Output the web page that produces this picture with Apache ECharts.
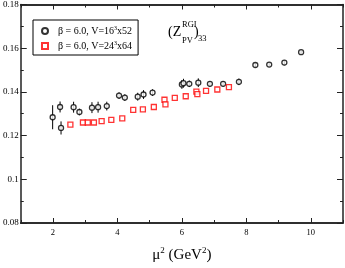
<!DOCTYPE html>
<html>
<head>
<meta charset="utf-8">
<script src="https://cdn.jsdelivr.net/npm/echarts@6/dist/echarts.min.js"></script>
<style>html,body{margin:0;padding:0;background:#fff;}#c{width:345px;height:268px;}</style>
</head>
<body>
<div id="c"></div>
<script>
// Data
var blackX = [1.99, 2.22, 2.25, 2.64, 2.82, 3.21, 3.40, 3.67, 4.05, 4.23, 4.63, 4.81, 5.09, 6.00, 6.05, 6.23, 6.51, 6.87, 7.28, 7.77, 8.28, 8.71, 9.18, 9.70];
var blackY = [0.1284, 0.1331, 0.1235, 0.1330, 0.1308, 0.1328, 0.1330, 0.1335, 0.1383, 0.1374, 0.1378, 0.1388, 0.1397, 0.1434, 0.1440, 0.1437, 0.1442, 0.1437, 0.1437, 0.1446, 0.1523, 0.1525, 0.1534, 0.1582];
var blackErr = [0.0055, 0.0025, 0.0030, 0.0025, 0.0015, 0.0025, 0.0025, 0.0020, 0.0015, 0.0015, 0.0018, 0.0020, 0.0015, 0.0020, 0.0020, 0.0015, 0.0020, 0.0012, 0.0012, 0.0015, 0.0010, 0.0010, 0.0012, 0.0010];
var redX = [2.54, 2.93, 3.08, 3.27, 3.51, 3.81, 4.15, 4.49, 4.79, 5.13, 5.46, 5.49, 5.78, 6.12, 6.45, 6.48, 6.75, 7.10, 7.46];
var redY = [0.1250, 0.1260, 0.1260, 0.1260, 0.1266, 0.1272, 0.1279, 0.1318, 0.1320, 0.1331, 0.1364, 0.1343, 0.1373, 0.1380, 0.1401, 0.1390, 0.1405, 0.1411, 0.1422];
var xMajorTicks = [2, 4, 6, 8, 10];
var xMinorTicks = [1, 3, 5, 7, 9, 11];
var seriesNames = ['s16', 's24'];

var FONT = '"Liberation Serif", "DejaVu Serif", serif';
var AX = '#222';

var blackPts = blackX.map(function (x, i) { return [x, blackY[i]]; });
var blackErrData = blackX.map(function (x, i) { return [x, blackY[i] - blackErr[i], blackY[i] + blackErr[i]]; });
var redPts = redX.map(function (x, i) { return [x, redY[i]]; });

function xAxisDef(pos, showLabel, ticks, len) {
  return {
    type: 'value', position: pos, min: 1, max: 11, interval: 1,
    axisLine: { show: true, onZero: false, lineStyle: { color: AX, width: 1.5 } },
    axisTick: { show: true, inside: true, length: len, customValues: ticks, lineStyle: { color: AX, width: 1 } },
    axisLabel: { show: showLabel, customValues: xMajorTicks, fontFamily: FONT, fontSize: 8.5, color: '#000', margin: 5 },
    splitLine: { show: false }
  };
}
function yAxisDef(pos, showLabel) {
  return {
    type: 'value', position: pos, min: 0.08, max: 0.18, interval: 0.02,
    axisLine: { show: true, onZero: false, lineStyle: { color: AX, width: 1.5 } },
    axisTick: { show: true, inside: true, length: 6, lineStyle: { color: AX, width: 1 } },
    minorTick: { show: true, splitNumber: 2, length: 3, lineStyle: { color: AX, width: 1 } },
    axisLabel: { show: showLabel, fontFamily: FONT, fontSize: 9, color: '#000', margin: 2 },
    splitLine: { show: false }, minorSplitLine: { show: false }
  };
}

var xa0 = xAxisDef('bottom', true, xMajorTicks, 5);
xa0.name = '{a|μ}{s|2}{a| (GeV}{s|2}{a|)}';
xa0.nameLocation = 'middle';
xa0.nameGap = 23;
xa0.nameTextStyle = {
  fontFamily: FONT, color: '#000',
  rich: {
    a: { fontFamily: FONT, fontSize: 15, color: '#000' },
    s: { fontFamily: FONT, fontSize: 9, color: '#000', padding: [0, 0, 10, 0] }
  }
};

var chart = echarts.init(document.getElementById('c'), null, { renderer: 'canvas' });
chart.setOption({
  animation: false,
  backgroundColor: '#fff',
  grid: { left: 20, right: 2, top: 4, bottom: 38, containLabel: false },
  xAxis: [
    xa0,
    xAxisDef('bottom', false, xMinorTicks, 3),
    xAxisDef('top', false, xMajorTicks, 5),
    xAxisDef('top', false, xMinorTicks, 3)
  ],
  yAxis: [yAxisDef('left', true), yAxisDef('right', false)],
  legend: {
    orient: 'vertical', left: 33, top: 20, width: 94,
    padding: [5, 6, 4, 8], itemGap: 4, itemWidth: 6, itemHeight: 6,
    borderColor: '#000', borderWidth: 1, borderRadius: 0,
    data: seriesNames,
    formatter: function (n) {
      return n === 's16' ? '{a|β = 6.0, V=16}{s|3}{a|x52}' : '{a|β = 6.0, V=24}{s|3}{a|x64}';
    },
    textStyle: {
      padding: [0, 0, 0, 5],
      rich: {
        a: { fontFamily: FONT, fontSize: 10, color: '#000' },
        s: { fontFamily: FONT, fontSize: 6, color: '#000', padding: [0, 0, 6, 0] }
      }
    }
  },
  graphic: [
    { type: 'text', left: 168, top: 25, style: { text: '(Z', font: '14px ' + FONT, fill: '#000' } },
    { type: 'text', left: 182, top: 20, style: { text: 'RGI', font: '8.5px ' + FONT, fill: '#000' } },
    { type: 'text', left: 182, top: 36, style: { text: 'PV', font: '8.5px ' + FONT, fill: '#000' } },
    { type: 'text', left: 194, top: 25, style: { text: ')', font: '14px ' + FONT, fill: '#000' } },
    { type: 'text', left: 198, top: 34.5, style: { text: '33', font: '8.5px ' + FONT, fill: '#000' } }
  ],
  series: [
    {
      type: 'custom', name: 'err16', xAxisIndex: 0, yAxisIndex: 0, silent: true,
      data: blackErrData, z: 2,
      renderItem: function (params, api) {
        var lo = api.coord([api.value(0), api.value(1)]);
        var hi = api.coord([api.value(0), api.value(2)]);
        return {
          type: 'line',
          shape: { x1: lo[0], y1: lo[1], x2: hi[0], y2: hi[1] },
          style: { stroke: '#000', lineWidth: 1 }
        };
      }
    },
    {
      type: 'scatter', name: 's16', xAxisIndex: 0, yAxisIndex: 0,
      data: blackPts, symbol: 'circle', symbolSize: 5, z: 3,
      itemStyle: { color: '#fff', borderColor: '#000', borderWidth: 1.3 }
    },
    {
      type: 'scatter', name: 's24', xAxisIndex: 0, yAxisIndex: 0,
      data: redPts, symbol: 'rect', symbolSize: 5, z: 3,
      itemStyle: { color: '#fff', borderColor: '#ff0000', borderWidth: 1.3 }
    }
  ]
});
</script>
</body>
</html>
